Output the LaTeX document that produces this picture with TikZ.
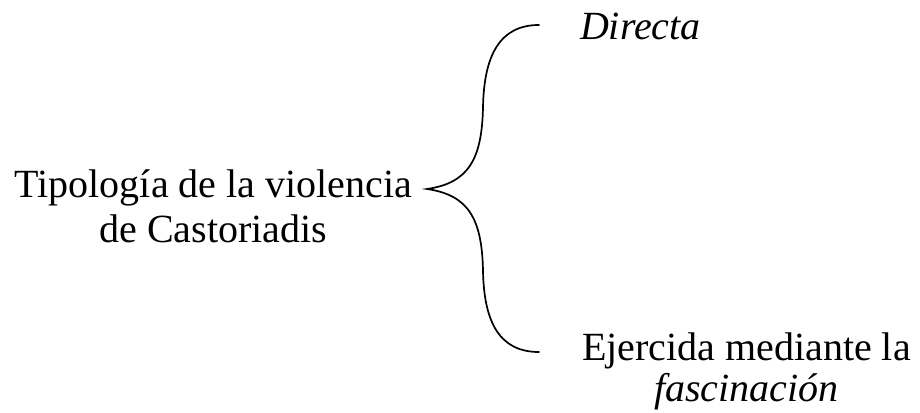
\documentclass[tikz,border=0pt]{standalone}
\usepackage{fontspec}
\setmainfont{Liberation Serif}
\begin{document}
\begin{tikzpicture}[x=1pt,y=-1pt,
  label/.style={inner sep=0pt, outer sep=0pt, font=\fontsize{40}{45}\selectfont},
  bracepath/.style={line width=1.7pt, line cap=round}]
\useasboundingbox[fill=white] (0,0) rectangle (920,412);
\node[label, align=center, anchor=base east] (root) at (412,242)
  {Tipología de la violencia\\de Castoriadis};
\node[label, anchor=base west] (dir) at (580,40) {\textit{Directa}};
\node[label, align=center, anchor=base west, font=\fontsize{40}{41}\selectfont] (fas) at (582,401)
  {Ejercida mediante la\\\textit{fascinación}};
\coordinate (cusp) at (427,189);
\coordinate (top) at (539,25);
\coordinate (bot) at (539,352);
\coordinate (um) at (483,107);
\coordinate (lm) at (483,271);
\draw[bracepath] (top) .. controls (500,25) and (484,55) .. (um)
  .. controls (482,160) and (468,183) .. (cusp)
  .. controls (468,195) and (482,218) .. (lm)
  .. controls (484,323) and (500,352) .. (bot);
\end{tikzpicture}
\end{document}
